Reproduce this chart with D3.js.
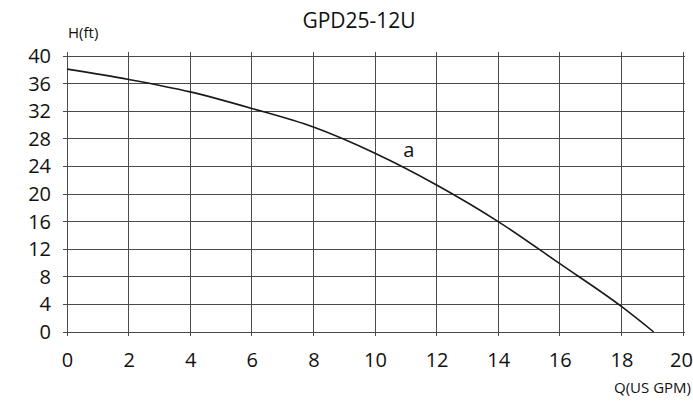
<!DOCTYPE html>
<html>
<head>
<meta charset="utf-8">
<script src="https://cdn.jsdelivr.net/npm/d3@7"></script>
<style>
  html, body { margin: 0; padding: 0; background: #fff; }
  svg { display: block; font-family: "Open Sans", "Noto Sans", sans-serif; }
</style>
</head>
<body>
<script>
// Pump performance curve GPD25-12U: head (ft) against flow (US GPM)
const chartTitle = "GPD25-12U";
const flowGpm = [0, 2, 4, 6, 8, 10, 12, 14, 16, 18, 19.05];
const headFt = [38.1, 36.6, 34.8, 32.4, 29.7, 25.9, 21.3, 16.0, 9.9, 3.7, 0];
const xTicks = [0, 2, 4, 6, 8, 10, 12, 14, 16, 18, 20];
const yTicks = [0, 4, 8, 12, 16, 20, 24, 28, 32, 36, 40];
const curveLabel = { text: "a", q: 11.1, h: 26.2 };

const width = 693, height = 403;
const margin = { top: 56, right: 10, bottom: 71, left: 67 };

const svg = d3.select("body").append("svg")
  .attr("width", width).attr("height", height);

const x = d3.scaleLinear().domain([0, 20]).range([margin.left, 683]);
const y = d3.scaleLinear().domain([0, 40]).range([332, margin.top]);

// grid lines (slightly overshooting the plot frame, like tick marks)
const grid = svg.append("g").attr("stroke", "#4a4a4a").attr("stroke-width", 1)
  .attr("shape-rendering", "crispEdges");
grid.selectAll("line.v").data(xTicks).join("line")
  .attr("class", "v")
  .attr("x1", d => x(d)).attr("x2", d => x(d))
  .attr("y1", y(40) - 4).attr("y2", y(0) + 4);
grid.selectAll("line.h").data(yTicks).join("line")
  .attr("class", "h")
  .attr("x1", x(0) - 4).attr("x2", x(20) + 2)
  .attr("y1", d => y(d)).attr("y2", d => y(d));

// axes labels via d3 axes (lines hidden, text only)
const xAxis = svg.append("g")
  .attr("transform", `translate(0,${y(0)})`)
  .call(d3.axisBottom(x).tickValues(xTicks).tickSize(0).tickPadding(21).tickFormat(d3.format("d")));
xAxis.select(".domain").remove();
xAxis.selectAll("text").attr("font-size", 20).attr("fill", "#111")
  .attr("font-family", "'Open Sans', sans-serif");
// keep the last label inside the right edge
xAxis.selectAll("text").filter(d => d === 20).attr("dx", -2);

const yAxis = svg.append("g")
  .attr("transform", `translate(${x(0)},0)`)
  .call(d3.axisLeft(y).tickValues(yTicks).tickSize(0).tickPadding(16).tickFormat(d3.format("d")));
yAxis.select(".domain").remove();
yAxis.selectAll("text").attr("font-size", 20).attr("fill", "#111")
  .attr("font-family", "'Open Sans', sans-serif");

// performance curve
const line = d3.line()
  .x((d, i) => x(flowGpm[i]))
  .y(d => y(d))
  .curve(d3.curveMonotoneX);
svg.append("path")
  .datum(headFt)
  .attr("d", line)
  .attr("fill", "none")
  .attr("stroke", "#1a1a1a")
  .attr("stroke-width", 1.6);

// curve label
svg.append("text")
  .attr("x", x(curveLabel.q)).attr("y", y(curveLabel.h))
  .attr("text-anchor", "middle")
  .attr("dominant-baseline", "middle")
  .attr("font-size", 20).attr("fill", "#111")
  .text(curveLabel.text);

// title and axis names
svg.append("text")
  .attr("x", 359).attr("y", 28)
  .attr("text-anchor", "middle")
  .attr("font-size", 21).attr("fill", "#111")
  .text(chartTitle);

svg.append("text")
  .attr("x", 68).attr("y", 38)
  .attr("font-size", 15).attr("fill", "#111")
  .text("H(ft)");

svg.append("text")
  .attr("x", 691).attr("y", 393)
  .attr("text-anchor", "end")
  .attr("font-size", 15).attr("fill", "#111")
  .text("Q(US GPM)");
</script>
</body>
</html>
